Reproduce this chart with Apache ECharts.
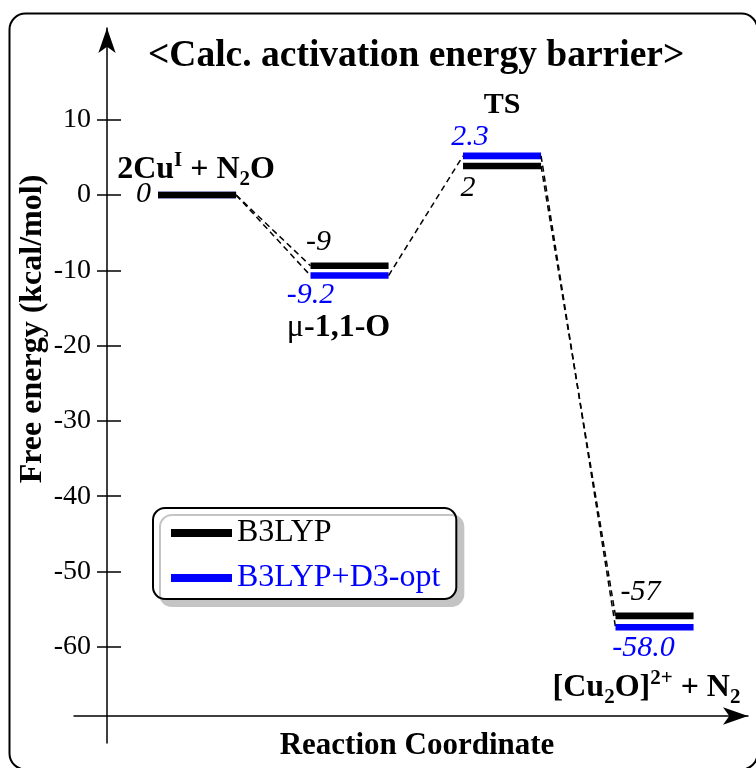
<!DOCTYPE html>
<html><head><meta charset="utf-8">
<script src="https://cdn.jsdelivr.net/npm/echarts@6/dist/echarts.min.js"></script>
<style>html,body{margin:0;padding:0;background:#fff}#c{width:756px;height:768px}</style>
</head><body><div id="c"></div>
<script>
// ---- data ----
const stateNames = ['2Cu{sup|I} + N{sub|2}O', '{mu|\u03bc}-1,1-O', 'TS', '[Cu{sub|2}O]{sup|2+} + N{sub|2}'];
const yTicks = [10, 0, -10, -20, -30, -40, -50, -60];
const seriesNames = ['B3LYP', 'B3LYP+D3-opt'];
const b3lypLevels = [0, -9.4, 3.85, -55.9];
const b3lypLabels = ['0', '-9', '2', '-57'];
const d3Levels = [0, -10.7, 5.2, -57.4];
const d3Labels = ['', '-9.2', '2.3', '-58.0'];

// ---- layout / style ----
const SERIF = "'Liberation Serif', 'Times New Roman', serif";
const HW = 0.256;
const BLACK = '#000000', BLUE = '#0000ff';
const bLabelPos = [[-7, -1, 'right'], [8, -24, 'center'], [5, 22, 'center'], [25, -24, 'center']];
const dLabelPos = [[0, 0, 'center'], [0, 20, 'center'], [7, -19, 'center'], [28, 21, 'center']];
const stateLabelPos = [[-1, -25, 32], [-11, 62, 32], [0, -61, 30], [-8, 72, 32]];
const bLinks = [true, false, true];
const dLinks = [true, true, true];

const rich = {
  sup: { fontFamily: SERIF, fontWeight: 'bold', fontSize: 21, verticalAlign: 'top', lineHeight: 22, fill: '#000' },
  sub: { fontFamily: SERIF, fontWeight: 'bold', fontSize: 21, verticalAlign: 'bottom', lineHeight: 26, fill: '#000' },
  mu: { fontFamily: SERIF, fontWeight: 'normal', fontSize: 32, lineHeight: 40, fill: '#000' }
};

function makeRender(levels, labels, labelPos, links, color, withStates) {
  return function (params, api) {
    const i = params.dataIndex;
    const k = api.value(0), v = api.value(1);
    const p0 = api.coord([k - HW, v]);
    const p1 = api.coord([k + HW, v]);
    const children = [];
    if (i > 0 && links[i - 1]) {
      const q = api.coord([k - 1 + HW, levels[i - 1]]);
      children.push({ type: 'line', shape: { x1: q[0], y1: q[1], x2: p0[0], y2: p0[1] },
        style: { stroke: '#000', lineWidth: 1.5, lineDash: [6, 4] } });
    }
    children.push({ type: 'rect', shape: { x: p0[0], y: p0[1] - 3.3, width: p1[0] - p0[0], height: 6.6 },
      style: { fill: color } });
    if (labels[i]) {
      const lp = labelPos[i];
      children.push({ type: 'text', x: p0[0] + lp[0], y: p0[1] + lp[1],
        style: { text: labels[i], fontFamily: SERIF, fontStyle: 'italic', fontSize: 30, fill: color,
          align: lp[2], verticalAlign: 'middle' } });
    }
    if (withStates) {
      const c = api.coord([k, v]);
      const sp = stateLabelPos[i];
      children.push({ type: 'text', x: c[0] + sp[0], y: c[1] + sp[1],
        style: { text: stateNames[i], fontFamily: SERIF, fontWeight: 'bold', fontSize: sp[2], lineHeight: 40,
          fill: '#000', align: 'center', verticalAlign: 'middle', rich: rich } });
    }
    return { type: 'group', children: children };
  };
}

const chart = echarts.init(document.getElementById('c'), null, { renderer: 'canvas' });
const axisLineStyle = { color: '#000', width: 1.5 };
chart.setOption({
  animation: false,
  backgroundColor: '#fff',
  title: { text: '<Calc. activation energy barrier>', left: 148, top: 37, padding: 0,
    textStyle: { fontFamily: SERIF, fontSize: 37.5, fontWeight: 'bold', color: '#000' } },
  grid: { left: 74, right: 8, top: 28, bottom: 25, containLabel: false },
  legend: {
    data: [{ name: seriesNames[0], textStyle: { color: BLACK } }, { name: seriesNames[1], textStyle: { color: BLUE } }],
    orient: 'vertical', left: 153, top: 508, icon: 'rect', itemWidth: 61, itemHeight: 8, itemGap: 13,
    textStyle: { fontFamily: SERIF, fontSize: 32 },
    padding: [9, 16, 5, 18], backgroundColor: '#fff', borderColor: '#000', borderWidth: 2, borderRadius: 12,
    shadowColor: '#c4c4c4', shadowOffsetX: 7, shadowOffsetY: 7, shadowBlur: 0, selectedMode: false
  },
  xAxis: {
    type: 'value', min: -0.807, max: 3.613, offset: -27,
    axisLine: { show: true, onZero: false, symbol: ['none', 'arrow'], symbolSize: [13, 25], lineStyle: axisLineStyle },
    axisTick: { show: false }, axisLabel: { show: false }, splitLine: { show: false },
    name: 'Reaction Coordinate', nameLocation: 'middle', nameGap: 14,
    nameTextStyle: { fontFamily: SERIF, fontSize: 31, fontWeight: 'bold', color: '#000', padding: [0, 0, 0, 12] }
  },
  yAxis: [{
    type: 'value', min: -72.78, max: 22.18, position: 'left', offset: -33,
    axisLine: { show: true, onZero: false, symbol: ['none', 'arrow'], symbolSize: [13, 25], lineStyle: axisLineStyle },
    axisTick: { show: true, length: 10, customValues: yTicks, lineStyle: axisLineStyle },
    axisLabel: { show: true, customValues: yTicks, margin: 16, fontFamily: SERIF, fontSize: 28, color: '#000' },
    splitLine: { show: false }
  }, {
    type: 'value', min: -72.78, max: 22.18, position: 'left', offset: -33,
    axisLine: { show: false, onZero: false },
    axisTick: { show: true, inside: true, length: 14, customValues: yTicks, lineStyle: axisLineStyle },
    axisLabel: { show: false }, splitLine: { show: false }
  }],
  graphic: [
    { type: 'rect', left: 7, top: 11, shape: { x: 0, y: 0, width: 748, height: 756, r: 16 },
      style: { fill: 'none', stroke: '#000', lineWidth: 2 }, z: -1 },
    { type: 'text', x: 33, y: 329, rotation: Math.PI / 2,
      style: { text: 'Free energy (kcal/mol)', font: 'bold 32px ' + SERIF, fill: '#000', align: 'center', verticalAlign: 'middle' } }
  ],
  series: [
    { name: seriesNames[1], type: 'custom', coordinateSystem: 'cartesian2d', xAxisIndex: 0, yAxisIndex: 0,
      itemStyle: { color: BLUE }, clip: false,
      data: d3Levels.map((v, i) => [i, v]), encode: { x: 0, y: 1 },
      renderItem: makeRender(d3Levels, d3Labels, dLabelPos, dLinks, BLUE, false) },
    { name: seriesNames[0], type: 'custom', coordinateSystem: 'cartesian2d', xAxisIndex: 0, yAxisIndex: 0,
      itemStyle: { color: BLACK }, clip: false,
      data: b3lypLevels.map((v, i) => [i, v]), encode: { x: 0, y: 1 },
      renderItem: makeRender(b3lypLevels, b3lypLabels, bLabelPos, bLinks, BLACK, true) }
  ]
});
</script></body></html>
